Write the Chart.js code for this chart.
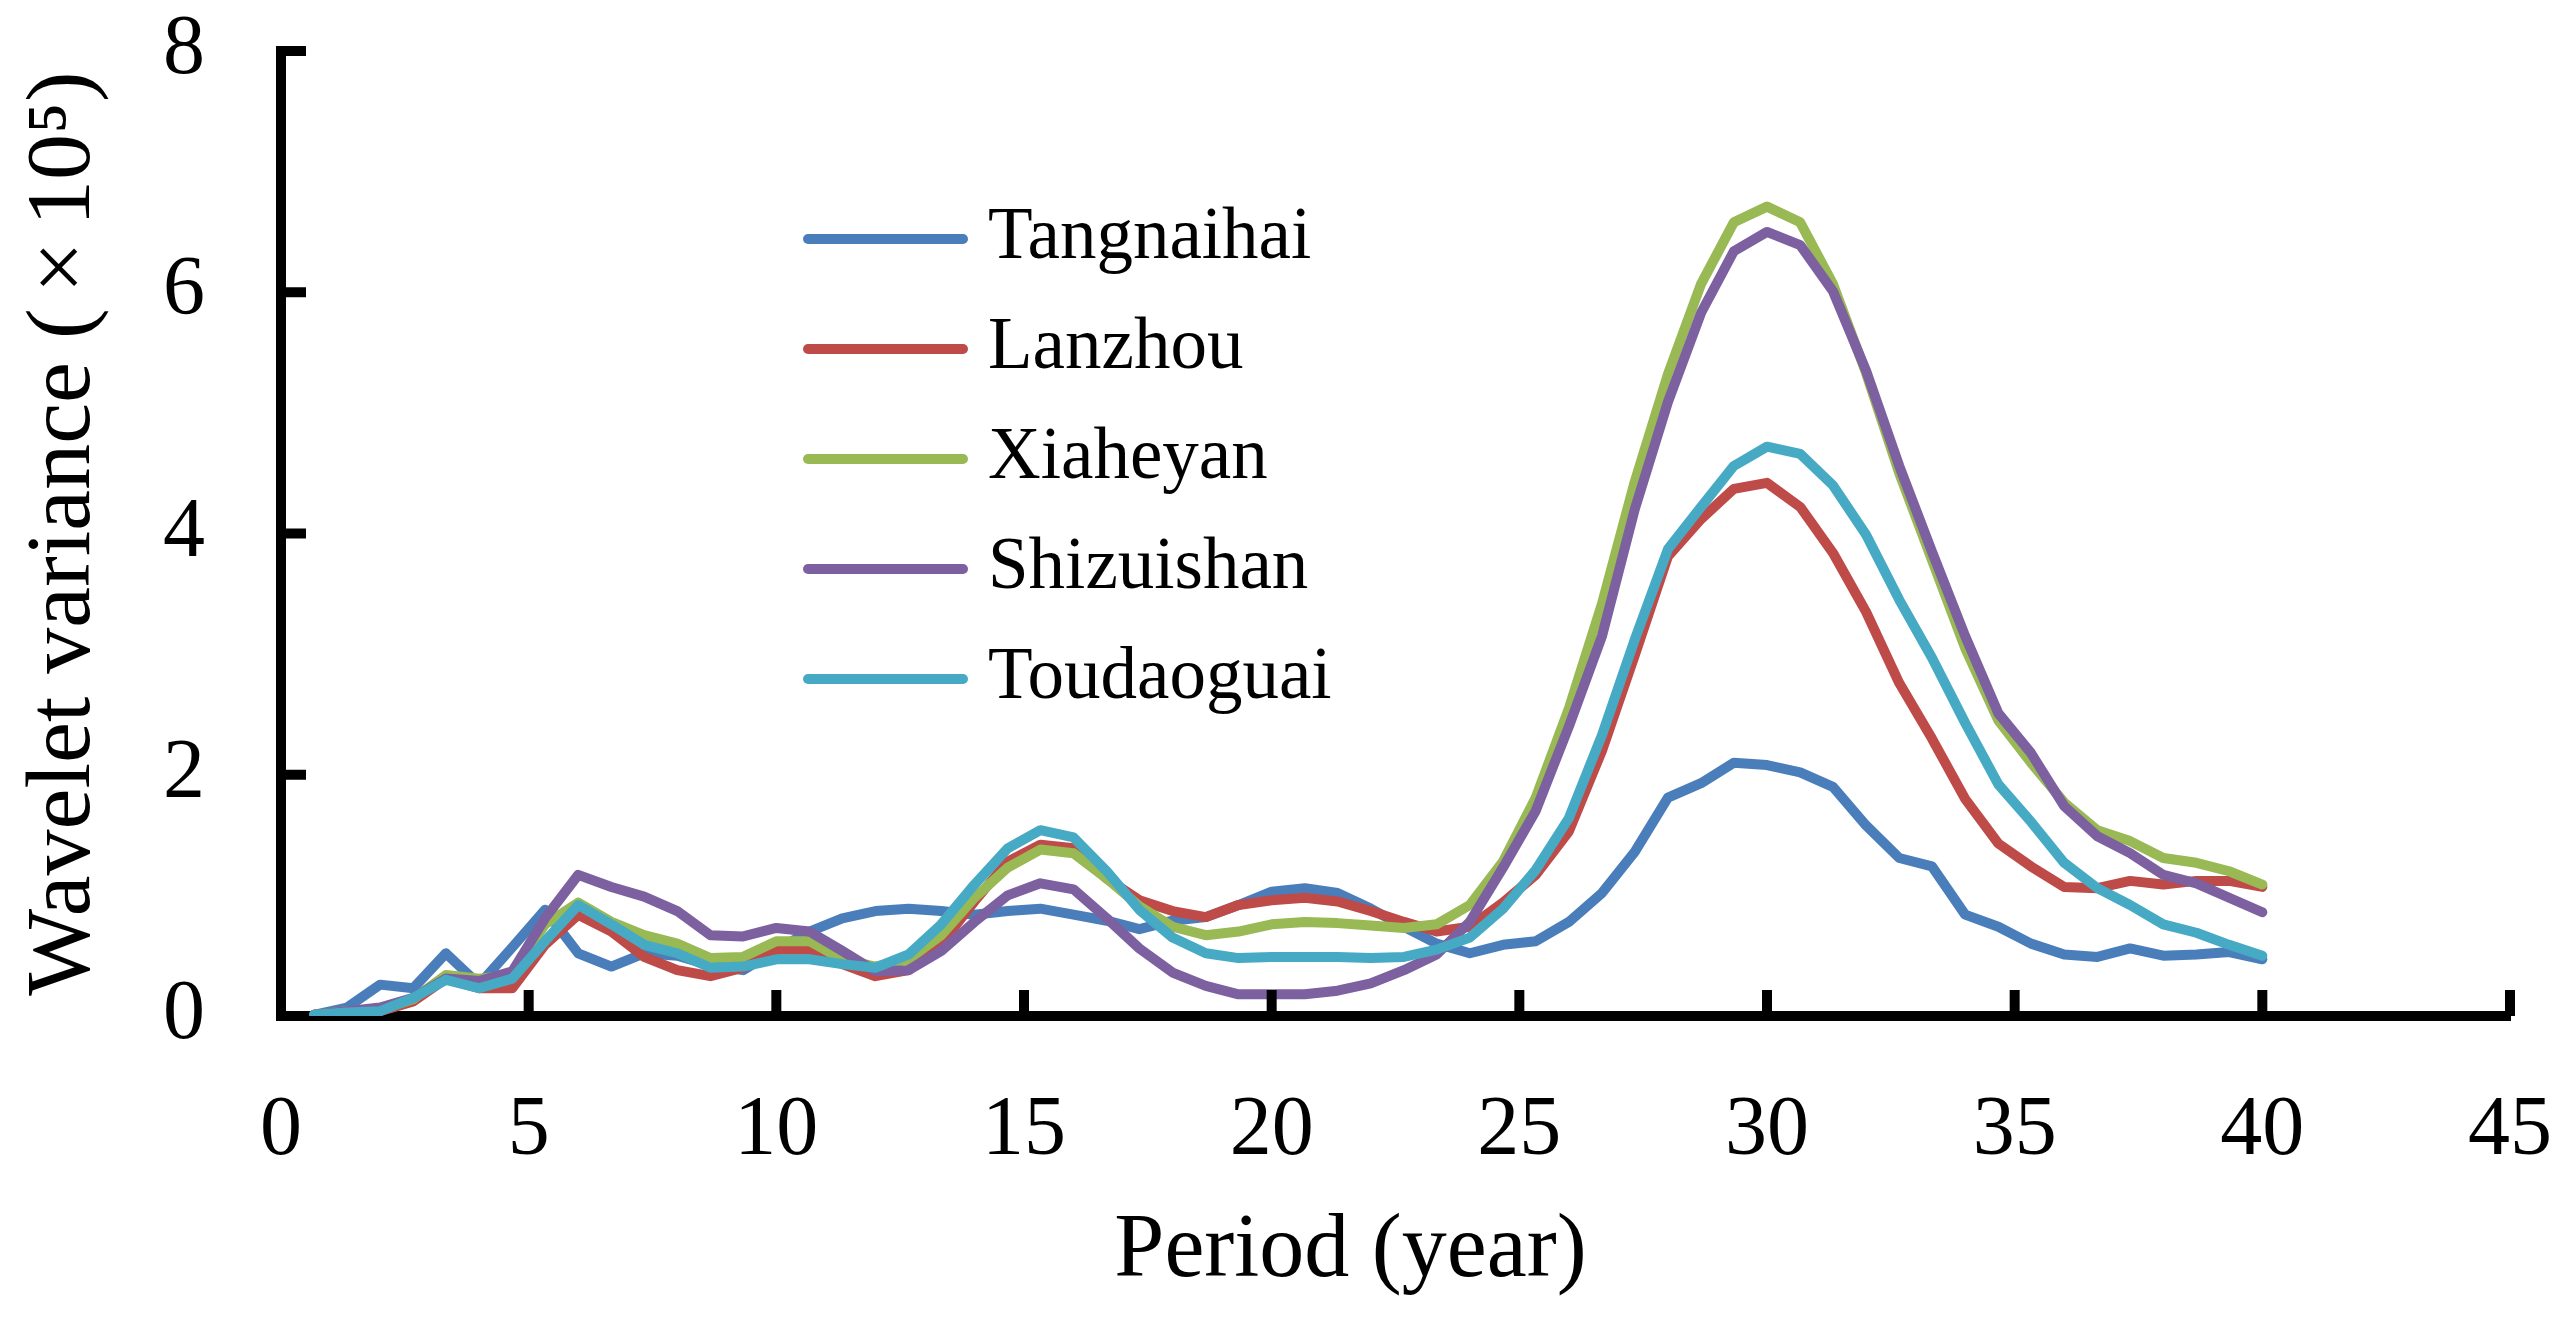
<!DOCTYPE html>
<html>
<head>
<meta charset="utf-8">
<script src="https://cdn.jsdelivr.net/npm/chart.js@4"></script>
<style>
  html, body { margin: 0; padding: 0; background: #fff; }
  #wrap { width: 2565px; height: 1332px; }
</style>
</head>
<body>
<div id="wrap"><canvas id="myChartWavelet" width="2565" height="1332"></canvas></div>
<script>
// period (year), one point every 2/3 year
const periods = [
  0.67, 1.33, 2, 2.67, 3.33, 4, 4.67, 5.33, 6, 6.67,
  7.33, 8, 8.67, 9.33, 10, 10.67, 11.33, 12, 12.67, 13.33,
  14, 14.67, 15.33, 16, 16.67, 17.33, 18, 18.67, 19.33, 20,
  20.67, 21.33, 22, 22.67, 23.33, 24, 24.67, 25.33, 26, 26.67,
  27.33, 28, 28.67, 29.33, 30, 30.67, 31.33, 32, 32.67, 33.33,
  34, 34.67, 35.33, 36, 36.67, 37.33, 38, 38.67, 39.33, 40,
];

const stations = ["Tangnaihai", "Lanzhou", "Xiaheyan", "Shizuishan", "Toudaoguai"];

// wavelet variance (x10^5)
const tangnaihai = [
  0.01, 0.07, 0.26, 0.23, 0.52, 0.26, 0.57, 0.88, 0.52, 0.41,
  0.52, 0.50, 0.42, 0.38, 0.55, 0.70, 0.81, 0.87, 0.89, 0.87,
  0.84, 0.87, 0.89, 0.84, 0.79, 0.72, 0.79, 0.82, 0.92, 1.03,
  1.06, 1.02, 0.89, 0.74, 0.60, 0.52, 0.59, 0.62, 0.78, 1.02,
  1.36, 1.81, 1.93, 2.10, 2.08, 2.02, 1.90, 1.58, 1.31, 1.24,
  0.84, 0.74, 0.60, 0.51, 0.49, 0.56, 0.50, 0.51, 0.53, 0.47,
];
const lanzhou = [
  0.01, 0.04, 0.04, 0.12, 0.31, 0.23, 0.23, 0.59, 0.84, 0.70,
  0.49, 0.38, 0.33, 0.40, 0.55, 0.55, 0.43, 0.33, 0.38, 0.60,
  0.95, 1.28, 1.42, 1.39, 1.14, 0.96, 0.87, 0.82, 0.92, 0.96,
  0.98, 0.95, 0.87, 0.78, 0.70, 0.74, 0.94, 1.17, 1.53, 2.20,
  2.99, 3.81, 4.12, 4.37, 4.42, 4.22, 3.84, 3.35, 2.76, 2.30,
  1.80, 1.43, 1.24, 1.07, 1.06, 1.12, 1.09, 1.12, 1.12, 1.07,
];
const xiaheyan = [
  0.01, 0.04, 0.05, 0.14, 0.34, 0.31, 0.34, 0.76, 0.94, 0.78,
  0.67, 0.60, 0.48, 0.49, 0.62, 0.62, 0.47, 0.41, 0.47, 0.67,
  0.98, 1.23, 1.38, 1.35, 1.14, 0.91, 0.74, 0.67, 0.70, 0.76,
  0.78, 0.77, 0.75, 0.73, 0.76, 0.92, 1.28, 1.81, 2.55, 3.42,
  4.43, 5.32, 6.07, 6.58, 6.71, 6.58, 6.07, 5.33, 4.50, 3.78,
  3.05, 2.45, 2.10, 1.77, 1.54, 1.45, 1.31, 1.27, 1.20, 1.09,
];
const shizuishan = [
  0.01, 0.04, 0.07, 0.15, 0.31, 0.29, 0.37, 0.81, 1.17, 1.07,
  0.99, 0.87, 0.67, 0.66, 0.73, 0.70, 0.54, 0.37, 0.38, 0.54,
  0.78, 1.00, 1.10, 1.05, 0.81, 0.56, 0.36, 0.25, 0.18, 0.18,
  0.18, 0.21, 0.27, 0.38, 0.51, 0.78, 1.23, 1.70, 2.40, 3.15,
  4.20, 5.09, 5.83, 6.34, 6.50, 6.39, 6.01, 5.35, 4.56, 3.85,
  3.15, 2.51, 2.18, 1.74, 1.49, 1.35, 1.17, 1.10, 0.98, 0.86,
];
const toudaoguai = [
  0.01, 0.03, 0.04, 0.15, 0.30, 0.23, 0.31, 0.62, 0.92, 0.76,
  0.59, 0.52, 0.40, 0.41, 0.47, 0.47, 0.43, 0.40, 0.51, 0.76,
  1.09, 1.39, 1.54, 1.48, 1.20, 0.88, 0.65, 0.52, 0.48, 0.49,
  0.49, 0.49, 0.48, 0.49, 0.55, 0.65, 0.89, 1.21, 1.64, 2.33,
  3.12, 3.87, 4.22, 4.56, 4.72, 4.66, 4.40, 3.99, 3.45, 2.97,
  2.43, 1.92, 1.61, 1.27, 1.06, 0.92, 0.76, 0.69, 0.59, 0.50,
];

const colors = ["#4A7EBB", "#BE4B48", "#98B954", "#7D60A0", "#46AAC5"];
const series = [tangnaihai, lanzhou, xiaheyan, shizuishan, toudaoguai];

const FONT = "'Liberation Serif', 'DejaVu Serif', serif";

// ticks pointing inward, like the original
const innerTicks = {
  id: "innerTicks",
  afterDraw(chart) {
    const ctx = chart.ctx;
    const x = chart.scales.x;
    const y = chart.scales.y;
    const area = chart.chartArea;
    ctx.save();
    ctx.strokeStyle = "#000";
    ctx.lineWidth = 10;
    ctx.lineCap = "butt";
    y.ticks.forEach((t) => {
      const py = y.getPixelForValue(t.value);
      ctx.beginPath();
      ctx.moveTo(area.left, py);
      ctx.lineTo(area.left + 25, py);
      ctx.stroke();
    });
    x.ticks.forEach((t) => {
      if (t.value === 0) return;
      const px = x.getPixelForValue(t.value);
      ctx.beginPath();
      ctx.moveTo(px, area.bottom);
      ctx.lineTo(px, area.bottom - 26);
      ctx.stroke();
    });
    ctx.restore();
  },
};

// legend placed inside the plot
const insideLegend = {
  id: "insideLegend",
  afterDraw(chart) {
    const ctx = chart.ctx;
    const left = 808;
    const top = 239;
    const rowGap = 110;
    ctx.save();
    ctx.font = "73px " + FONT;
    ctx.textBaseline = "middle";
    ctx.fillStyle = "#000";
    chart.data.datasets.forEach((ds, i) => {
      const yy = top + i * rowGap;
      ctx.strokeStyle = ds.borderColor;
      ctx.lineWidth = 10;
      ctx.lineCap = "round";
      ctx.beginPath();
      ctx.moveTo(left, yy);
      ctx.lineTo(left + 155, yy);
      ctx.stroke();
      ctx.fillText(ds.label, left + 180, yy);
    });
    ctx.restore();
  },
};

const myChartWavelet = new Chart(document.getElementById("myChartWavelet"), {
  type: "line",
  data: {
    datasets: stations.map((name, i) => ({
      label: name,
      data: periods.map((p, j) => ({ x: p, y: series[i][j] })),
      borderColor: colors[i],
      backgroundColor: colors[i],
      borderWidth: 10,
      borderCapStyle: "round",
      borderJoinStyle: "round",
      pointRadius: 0,
      tension: 0,
      fill: false,
      order: 5 - i,
    })),
  },
  options: {
    responsive: false,
    animation: false,
    devicePixelRatio: 1,
    layout: {
      padding: 0,
    },
    plugins: {
      legend: { display: false },
      tooltip: { enabled: false },
    },
    scales: {
      x: {
        type: "linear",
        min: 0,
        max: 45,
        afterFit(scale) {
          scale.height = 316;
          scale.paddingRight = 55;
          scale.paddingLeft = 0;
        },
        grid: { display: false, drawTicks: false },
        border: { display: true, color: "#000", width: 10 },
        ticks: {
          stepSize: 5,
          padding: 66,
          color: "#000",
          font: { family: FONT, size: 84 },
          maxRotation: 0,
        },
        title: {
          display: true,
          // trailing em space nudges the title a little left, as in the original
          text: "Period (year)\u2003",
          color: "#000",
          font: { family: FONT, size: 90 },
          padding: { top: 0, bottom: 26 },
        },
      },
      y: {
        min: 0,
        max: 8,
        afterFit(scale) {
          scale.width = 281;
          scale.paddingTop = 51;
          scale.paddingBottom = 0;
        },
        grid: { display: false, drawTicks: false },
        border: { display: true, color: "#000", width: 10 },
        ticks: {
          stepSize: 2,
          padding: 76,
          color: "#000",
          font: { family: FONT, size: 84 },
        },
        title: {
          display: true,
          text: "Wavelet variance (\u2006\u00D7\u200610\u2075)",
          color: "#000",
          font: { family: FONT, size: 92 },
          padding: { top: 10, bottom: 0 },
        },
      },
    },
  },
  plugins: [innerTicks, insideLegend],
});
</script>
</body>
</html>
